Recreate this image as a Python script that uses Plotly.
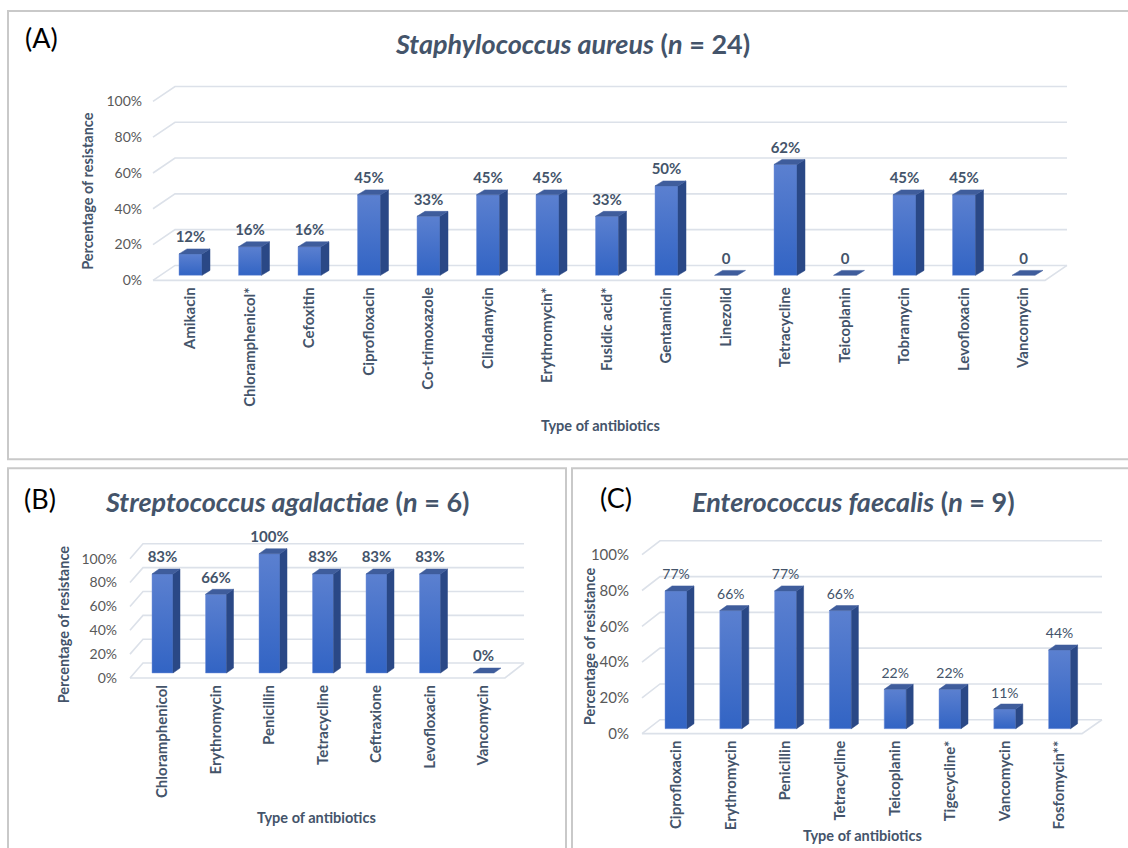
import plotly.graph_objects as go

W, H = 1128, 848

# ---------------- data ----------------
a_categories = ["Amikacin", "Chloramphenicol*", "Cefoxitin", "Ciprofloxacin", "Co-trimoxazole",
                "Clindamycin", "Erythromycin*", "Fusidic acid*", "Gentamicin", "Linezolid",
                "Tetracycline", "Teicoplanin", "Tobramycin", "Levofloxacin", "Vancomycin"]
a_values = [12, 16, 16, 45, 33, 45, 45, 33, 50, 0, 62, 0, 45, 45, 0]
a_labels = ["12%", "16%", "16%", "45%", "33%", "45%", "45%", "33%", "50%", "0", "62%", "0", "45%", "45%", "0"]

b_categories = ["Chloramphenicol", "Erythromycin", "Penicillin", "Tetracycline", "Ceftraxione",
                "Levofloxacin", "Vancomycin"]
b_values = [83, 66, 100, 83, 83, 83, 0]
b_labels = ["83%", "66%", "100%", "83%", "83%", "83%", "0%"]

c_categories = ["Ciprofloxacin", "Erythromycin", "Penicillin", "Tetracycline", "Teicoplanin",
                "Tigecycline*", "Vancomycin", "Fosfomycin**"]
c_values = [77, 66, 77, 66, 22, 22, 11, 44]
c_labels = ["77%", "66%", "77%", "66%", "22%", "22%", "11%", "44%"]

y_tick_values = [0, 20, 40, 60, 80, 100]
y_tick_text = ["0%", "20%", "40%", "60%", "80%", "100%"]

# ---------------- styles ----------------
FONT = "Lato"
SLATE = "#44546A"
TICK_COL = "#595959"
GRID_COL = "#DCE1E9"
FRONT_TOP = "#5B80D0"
FRONT_BOT = "#3264C4"
SIDE_COL = "#2A4886"
TOP_COL = "#3F5D9C"
FRAME_COL = "#C9C9C9"

fig = go.Figure()


def px2x(px):
    return px / W


def px2y(py):
    return 1 - py / H


panels = [
    dict(name="A", cats=a_categories, vals=a_values, labs=a_labels, label_bold=True,
         c0=190.5, sp=59.5, y0=277, ppu=1.8, hw=11.5, ddx=8, ddy=5,
         dom_x=(143, 1075), dom_y=(60, 285), fx=153, bx=175, back_end=1067, floor_end=1045,
         back_off=10, front_off=5, tick_size=14, lab_size=15),
    dict(name="B", cats=b_categories, vals=b_values, labs=b_labels, label_bold=True,
         c0=162.5, sp=53.5, y0=677, ppu=1.2, hw=10.5, ddx=7, ddy=5,
         dom_x=(118, 530), dom_y=(525, 685), fx=130, bx=143, back_end=524, floor_end=505,
         back_off=10, front_off=5, tick_size=14, lab_size=15),
    dict(name="C", cats=c_categories, vals=c_values, labs=c_labels, label_bold=False,
         c0=676, sp=54.8, y0=733, ppu=1.8, hw=11, ddx=7, ddy=5,
         dom_x=(630, 1110), dom_y=(535, 741), fx=642, bx=660, back_end=1102, floor_end=1082,
         back_off=9, front_off=5, tick_size=15, lab_size=14),
]

layout_axes = {}
for k, p in enumerate(panels):
    suffix = "" if k == 0 else str(k + 1)
    xa, ya = "x" + suffix, "y" + suffix
    sp, c0, y0, ppu = p["sp"], p["c0"], p["y0"], p["ppu"]
    dx_u = lambda px, c0=c0, sp=sp: (px - c0) / sp
    dy_u = lambda py, y0=y0, ppu=ppu: (y0 - py) / ppu

    xr = [dx_u(p["dom_x"][0]), dx_u(p["dom_x"][1])]
    yr = [dy_u(p["dom_y"][1]), dy_u(p["dom_y"][0])]

    # gridlines (3D wall style)
    gx, gy = [], []
    fx_u, bx_u, be_u, fe_u = dx_u(p["fx"]), dx_u(p["bx"]), dx_u(p["back_end"]), dx_u(p["floor_end"])
    bo, fo = p["back_off"] / ppu, p["front_off"] / ppu
    for t in y_tick_values:
        gx += [fx_u, bx_u, be_u, None]
        gy += [t - fo, t + bo, t + bo, None]
    gx += [fx_u, fe_u, be_u, None]
    gy += [-fo, -fo, bo, None]
    fig.add_trace(go.Scatter(x=gx, y=gy, mode="lines", line=dict(color=GRID_COL, width=1.6),
                             hoverinfo="skip", showlegend=False, xaxis=xa, yaxis=ya))

    hw = p["hw"] / sp
    ddx = p["ddx"] / sp
    ddy = p["ddy"] / ppu
    for i, v in enumerate(p["vals"]):
        if v > 0:
            # front face
            fig.add_trace(go.Scatter(
                x=[i - hw, i + hw, i + hw, i - hw, i - hw], y=[0, 0, v, v, 0],
                mode="lines", fill="toself", line=dict(color="rgba(120,150,220,0.6)", width=0.8),
                fillgradient=dict(type="vertical", colorscale=[[0, FRONT_BOT], [1, FRONT_TOP]]),
                hoverinfo="skip", showlegend=False, xaxis=xa, yaxis=ya))
            # side face
            fig.add_trace(go.Scatter(
                x=[i + hw, i + hw + ddx, i + hw + ddx, i + hw, i + hw],
                y=[0, ddy, v + ddy, v, 0],
                mode="lines", fill="toself", line=dict(color=SIDE_COL, width=0.5),
                fillcolor=SIDE_COL, hoverinfo="skip", showlegend=False, xaxis=xa, yaxis=ya))
        # top face
        fig.add_trace(go.Scatter(
            x=[i - hw, i + hw, i + hw + ddx, i - hw + ddx, i - hw],
            y=[v, v, v + ddy, v + ddy, v],
            mode="lines", fill="toself", line=dict(color=TOP_COL, width=0.5),
            fillcolor=TOP_COL, hoverinfo="skip", showlegend=False, xaxis=xa, yaxis=ya))

    # data labels
    lab_text = [("<b>%s</b>" % s) if p["label_bold"] else s for s in p["labs"]]
    fig.add_trace(go.Scatter(
        x=list(range(len(p["vals"]))), y=[v + 8 / ppu for v in p["vals"]],
        mode="text", text=lab_text, textposition="top center",
        textfont=dict(family=FONT, size=p["lab_size"], color=SLATE),
        hoverinfo="skip", showlegend=False, xaxis=xa, yaxis=ya, cliponaxis=False))

    layout_axes["xaxis" + suffix] = dict(
        domain=[px2x(p["dom_x"][0]), px2x(p["dom_x"][1])], range=xr,
        tickmode="array", tickvals=list(range(len(p["cats"]))),
        ticktext=["<b>%s</b>" % c for c in p["cats"]], tickangle=-90,
        tickfont=dict(family=FONT, size=15, color=SLATE),
        showgrid=False, zeroline=False, showline=False, ticks="", anchor=ya, fixedrange=True)
    layout_axes["yaxis" + suffix] = dict(
        domain=[px2y(p["dom_y"][1]), px2y(p["dom_y"][0])], range=yr,
        tickmode="array", tickvals=[t - fo for t in y_tick_values], ticktext=y_tick_text,
        tickfont=dict(family=FONT, size=p["tick_size"], color=TICK_COL),
        showgrid=False, zeroline=False, showline=False, ticks="", anchor=xa, fixedrange=True)

fig.update_layout(**layout_axes)

# frames
frames = [(8, 11, 1140, 462), (8, 471, 566, 860), (572, 471, 1140, 860)]
for x0, y0_, x1, y1 in frames:
    fig.add_shape(type="rect", xref="paper", yref="paper",
                  x0=px2x(x0), x1=px2x(x1), y0=px2y(y1), y1=px2y(y0_),
                  line=dict(color=FRAME_COL, width=2), fillcolor="rgba(0,0,0,0)", layer="below")

ann = []


def add_text(text, px, py, size, color, bold=False, angle=0, xanchor="center", family=FONT):
    ann.append(dict(text=("<b>%s</b>" % text) if bold else text, x=px2x(px), y=px2y(py),
                    xref="paper", yref="paper", showarrow=False, textangle=angle,
                    xanchor=xanchor, yanchor="middle",
                    font=dict(family=family, size=size, color=color)))


# panel letters
add_text("(A)", 41, 38, 27, "#000000")
add_text("(B)", 40, 501, 27, "#000000")
add_text("(C)", 616, 500, 27, "#000000")

# titles
add_text("<i>Staphylococcus aureus</i> (<i>n</i> = 24)", 572, 44, 27, SLATE, bold=True)
add_text("<i>Streptococcus agalactiae</i> (<i>n</i> = 6)", 287, 504, 27, SLATE, bold=True)
add_text("<i>Enterococcus faecalis</i> (<i>n</i> = 9)", 853, 504, 27, SLATE, bold=True)

# y titles
add_text("Percentage of resistance", 88, 192, 14.5, SLATE, bold=True, angle=-90)
add_text("Percentage of resistance", 63, 628, 14.5, SLATE, bold=True, angle=-90)
add_text("Percentage of resistance", 589, 650, 14.5, SLATE, bold=True, angle=-90)

# x titles
add_text("Type of antibiotics", 600, 428, 14.5, SLATE, bold=True)
add_text("Type of antibiotics", 316, 822, 14.5, SLATE, bold=True)
add_text("Type of antibiotics", 862, 840, 14.5, SLATE, bold=True)

fig.update_layout(
    annotations=ann,
    width=W, height=H,
    margin=dict(l=0, r=0, t=0, b=0),
    paper_bgcolor="white", plot_bgcolor="rgba(0,0,0,0)",
    showlegend=False,
    font=dict(family=FONT),
)

fig.write_html("out.html", config={"displayModeBar": False})
